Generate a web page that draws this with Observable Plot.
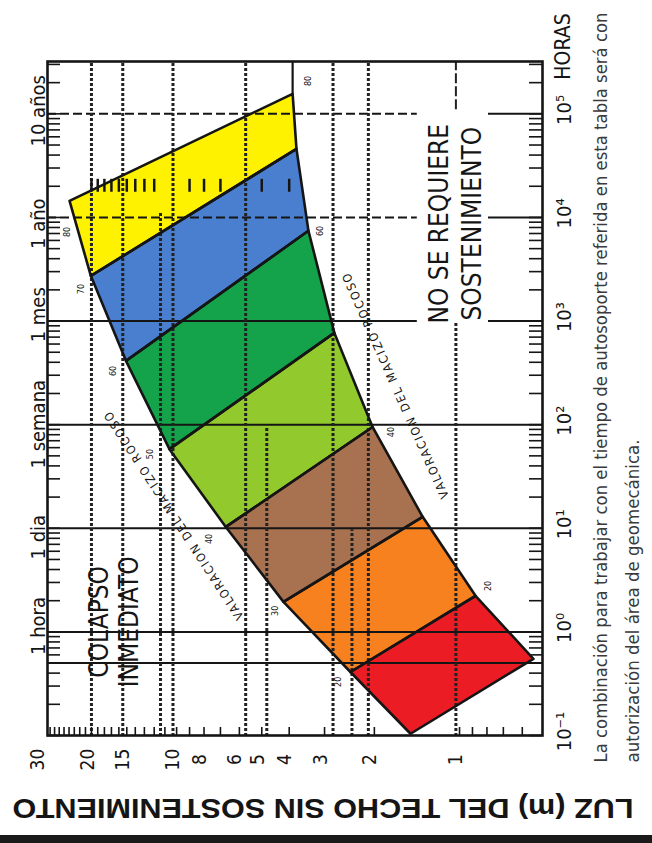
<!DOCTYPE html>
<html><head><meta charset="utf-8">
<script src="https://cdn.jsdelivr.net/npm/d3@7"></script>
<script src="https://cdn.jsdelivr.net/npm/@observablehq/plot@0.6"></script>
<style>
html,body{margin:0;padding:0;background:#fff;}
body{width:652px;height:843px;position:relative;overflow:hidden;}
#rot{position:absolute;left:0;top:0;width:843px;height:652px;transform-origin:0 0;transform:translate(0px,843px) rotate(-90deg);}
#rot svg{max-width:none !important;}
#bar{position:absolute;left:0;top:835px;width:652px;height:8px;background:#1a1a1a;}
</style></head><body>
<div id="rot"></div><div id="bar"></div>
<script>
// ---------- data ----------
const decades = [0.1, 1, 10, 100, 1000, 10000, 100000];
const decadeLabels = ["10⁻¹", "10⁰", "10¹", "10²", "10³", "10⁴", "10⁵"];
const timeLabels = ["1 hora", "1 dia", "1 semana", "1 mes", "1 año", "10 años"];
const timeLabelHours = [1.14, 8.2, 101, 1150, 8700, 107000];
const spanTicks = [30, 20, 15, 10, 8, 6, 5, 4, 3, 2, 1];
const spanMinor = [0.6, 0.7, 0.8, 0.9, 1, 2, 3, 4, 5, 6, 7, 8, 9, 10, 11, 12, 13, 14, 15, 16, 17, 18, 19, 20, 21, 22, 23, 24, 25, 26, 27, 28];
const rowTicks = [20, 19, 18, 17, 16, 15, 14, 13, 12, 9, 8, 7, 5, 4];
// band boundary vertices (hours, span m)
const leftH  = [14450, 2730, 413, 58, 10.3, 1.95, 0.41, 0.104];
const leftS  = [23.9, 20.1, 15.1, 10.6, 6.7, 4.19, 2.43, 1.49];
const rightH = [156000, 45900, 7430, 769, 95, 12.9, 2.23, 0.55];
const rightS = [3.89, 3.77, 3.42, 2.77, 2.03, 1.35, 0.878, 0.548];
const rmrLeft = [80, 70, 60, 50, 40, 30, 20];
const rmrLeftH = [7250, 2040, 330, 52, 7.9, 1.6, 0.33];
const rmrLeftS = [24.3, 21.8, 16.8, 12.4, 7.7, 4.47, 2.68];
const rmrRight = [80, 60, 40, 20];
const rmrRightH = [208000, 7420, 85, 2.78];
const rmrRightS = [3.44, 3.1, 1.75, 0.79];
// grid lines
const timeGridSolid = [0.5, 1, 10, 100];
const timeGridGap = [1000];
const timeGridDashed = [10000, 100000];
const gapSpan = [1.41, 0.79];
const spanGrid = [20, 15.5, 11.4, 10.3, 5.7, 4.8, 2.8, 2.4, 2.1, 1.03];
const spanGridEnd = [320000, 320000, 11300, 320000, 320000, 97, 320000, 9.9, 320000, 1000];
const spanTopSegment = [1.03];
const spanTopSegmentStart = [112000];
const captionLines = [
  "La combinación para trabajar con el tiempo de autosoporte referida en esta tabla será con",
  "autorización del área de geomecánica."
];

// ---------- styles ----------
const bandColors = ["#FFF200", "#4A7ECF", "#14A24B", "#92C92C", "#A8714F", "#F7811F", "#EC1C24"];
const NARROW = "'Liberation Sans Narrow','Arial Narrow','DejaVu Sans Condensed',sans-serif";
const INK = "#151515";

const xDom = [0.1, 320000], yDom = [0.509, 28.6];
const bands = d3.range(bandColors.length).map(i => [
  [leftH[i], leftS[i]], [leftH[i + 1], leftS[i + 1]],
  [rightH[i + 1], rightS[i + 1]], [rightH[i], rightS[i]], [leftH[i], leftS[i]]
]);
const timeMinor = [];
for (const d of decades) for (let k = 1; k <= 9; k++) { const v = k * d; if (v >= xDom[0] && v <= xDom[1]) timeMinor.push(v); }

const X = d => d[0], Y = d => d[1];
const chart = Plot.plot({
  width: 843, height: 652,
  marginLeft: 107, marginRight: 62, marginTop: 47, marginBottom: 110,
  x: {type: "log", domain: xDom, axis: null},
  y: {type: "log", domain: yDom, axis: null},
  style: {fontFamily: NARROW, color: INK, background: "white"},
  marks: [
    ...bands.map((b, i) => Plot.line(b, {x: X, y: Y, fill: bandColors[i], stroke: "none"})),
    // time grid
    Plot.ruleX(timeGridSolid, {x: d => d, stroke: INK, strokeWidth: 2}),
    Plot.ruleX(timeGridGap, {x: d => d, y1: yDom[1], y2: gapSpan[0], stroke: INK, strokeWidth: 2}),
    Plot.ruleX(timeGridGap, {x: d => d, y1: gapSpan[1], y2: yDom[0], stroke: INK, strokeWidth: 2}),
    Plot.ruleX(timeGridDashed, {x: d => d, y1: yDom[1], y2: gapSpan[0], stroke: INK, strokeWidth: 2, strokeDasharray: "9,4"}),
    Plot.ruleX(timeGridDashed, {x: d => d, y1: gapSpan[1], y2: yDom[0], stroke: INK, strokeWidth: 2}),
    // span grid (dotted)
    Plot.ruleY(spanGrid, {y: d => d, x1: xDom[0], x2: (d, i) => spanGridEnd[i], stroke: "#222", strokeWidth: 3, strokeDasharray: "3,2"}),
    Plot.ruleY(spanTopSegment, {y: d => d, x1: (d, i) => spanTopSegmentStart[i], x2: xDom[1], stroke: "#222", strokeWidth: 2, strokeDasharray: "10,3"}),
    // ticks
    Plot.tickX(timeMinor, {x: d => d, insetTop: 495 - 13, stroke: INK, strokeWidth: 1.6}),
    Plot.tickX(timeMinor, {x: d => d, insetBottom: 495 - 13, stroke: INK, strokeWidth: 1.6}),
    Plot.tickY(spanMinor, {y: d => d, insetRight: 674 - 9, stroke: INK, strokeWidth: 1.6}),
    Plot.link(rowTicks, {x1: () => 17700, x2: () => 23600, y1: d => d, y2: d => d, stroke: INK, strokeWidth: 2.5}),
    // band outlines
    ...bands.map(b => Plot.line(b, {x: X, y: Y, stroke: INK, strokeWidth: 2.6, strokeLinejoin: "round"})),
    Plot.link([0], {x1: () => rightH[0], x2: () => xDom[1], y1: () => rightS[0], y2: () => rightS[0], stroke: INK, strokeWidth: 2.2}),
    Plot.frame({stroke: INK, strokeWidth: 2.6}),
    // axis labels
    Plot.text(decades, {x: d => d, text: (d, i) => decadeLabels[i], frameAnchor: "bottom", textAnchor: "middle", dx: 4, dy: 28, fontSize: 20}),
    Plot.text(["HORAS"], {frameAnchor: "bottom-right", textAnchor: "middle", dx: 15, dy: 27, fontSize: 21}),
    Plot.text(timeLabels, {x: (d, i) => timeLabelHours[i], text: d => d, frameAnchor: "top", textAnchor: "middle", dy: -17, fontSize: 20}),
    Plot.text(spanTicks, {y: d => d, text: d => String(d), frameAnchor: "left", textAnchor: "middle", dx: -24, dy: -4, fontSize: 19}),
    Plot.text(["LUZ (m) DEL TECHO SIN SOSTENIMIENTO"], {frameAnchor: "left", textAnchor: "start", dx: -72, dy: 338.5, rotate: -90, fontSize: 27, fontWeight: "bold", fontFamily: "'Liberation Sans',Arial,sans-serif"}),
    Plot.text([captionLines[0]], {frameAnchor: "bottom-left", textAnchor: "start", dx: -27, dy: 64, fontSize: 17.5, fill: "#3a3a3a"}),
    Plot.text([captionLines[1]], {frameAnchor: "bottom-left", textAnchor: "start", dx: -27, dy: 96, fontSize: 17.5, fill: "#3a3a3a"}),
    // annotations
    Plot.text(["COLAPSO\nINMEDIATO"], {x: () => 1.25, y: () => 16.7, fontSize: 26, lineHeight: 1.15}),
    Plot.text(["NO SE REQUIERE\nSOSTENIMIENTO"], {x: () => 8700, y: () => 1.05, fontSize: 26, lineHeight: 1.27}),
    Plot.text(["VALORACION DEL MACIZO ROCOSO"], {x: () => 13.2, y: () => 10.2, rotate: -33, fontSize: 12}),
    Plot.text(["VALORACION DEL MACIZO ROCOSO"], {x: () => 237, y: () => 1.68, rotate: -24, fontSize: 12}),
    Plot.text(rmrLeft, {x: (d, i) => rmrLeftH[i], y: (d, i) => rmrLeftS[i], text: d => String(d), fontSize: 9}),
    Plot.text(rmrRight, {x: (d, i) => rmrRightH[i], y: (d, i) => rmrRightS[i], text: d => String(d), fontSize: 9})
  ]
});
document.getElementById("rot").appendChild(chart);
// fit a few long labels to their measured lengths
const fits = {"LUZ (m) DEL TECHO SIN SOSTENIMIENTO": [621, "spacingAndGlyphs"],
  [captionLines[0]]: [750, "spacingAndGlyphs"], [captionLines[1]]: [323, "spacingAndGlyphs"],
  "VALORACION DEL MACIZO ROCOSO": [245, "spacing"]};
chart.querySelectorAll("text").forEach(t => {
  const f = fits[t.textContent];
  if (f && t.children.length === 0) { t.setAttribute("textLength", f[0]); t.setAttribute("lengthAdjust", f[1]); }
});
</script>
</body></html>
